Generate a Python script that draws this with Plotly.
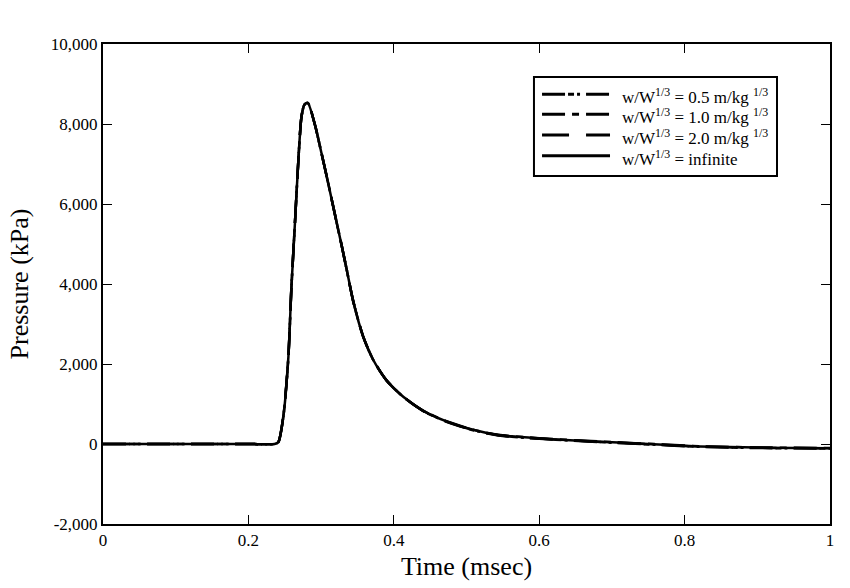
import plotly.graph_objects as go

time_ms = [0.0, 0.10, 0.20, 0.236, 0.241, 0.248, 0.255, 0.259, 0.264, 0.269, 0.273, 0.277,
           0.2816, 0.2916, 0.3008, 0.310, 0.3191, 0.3283, 0.3352, 0.3443, 0.358, 0.3718,
           0.390, 0.413, 0.440, 0.4725, 0.509, 0.5437, 0.600, 0.684, 0.750,
           0.821, 0.900, 1.000]
p_inf = [0, 0, 0, 0, 40, 680, 2180, 3850, 5520, 7180, 8180, 8480,
         8530, 7975, 7250, 6500, 5730, 4960, 4360, 3560, 2680, 2100,
         1590, 1180, 835, 565, 355, 225, 140, 58, 0,
         -60, -90, -105]
p_20 = [0, 0, 0, 0, 40, 680, 2180, 3850, 5520, 7180, 8180, 8480,
        8530, 7975, 7250, 6500, 5730, 4960, 4360, 3560, 2680, 2100,
        1590, 1180, 835, 560, 350, 220, 135, 53, -5,
        -65, -95, -108]
p_10 = [0, 0, 0, 0, 40, 680, 2180, 3850, 5520, 7180, 8180, 8480,
        8530, 7975, 7250, 6500, 5730, 4960, 4360, 3560, 2680, 2100,
        1590, 1180, 835, 570, 360, 230, 145, 62, 5,
        -55, -85, -100]
p_05 = [0, 0, 0, 0, 40, 680, 2180, 3850, 5520, 7180, 8180, 8480,
        8530, 7975, 7250, 6500, 5730, 4960, 4360, 3560, 2680, 2100,
        1590, 1180, 830, 555, 345, 215, 130, 48, -10,
        -70, -100, -112]

series_names = ["w/W<sup>1/3</sup> = 0.5 m/kg <sup>1/3</sup>",
                "w/W<sup>1/3</sup> = 1.0 m/kg <sup>1/3</sup>",
                "w/W<sup>1/3</sup> = 2.0 m/kg <sup>1/3</sup>",
                "w/W<sup>1/3</sup> = infinite"]
series_values = [p_05, p_10, p_20, p_inf]
dashes = ["23px,3px,6px,3px,3px,6px", "23px,7px,7px,7px", "27px,17px", "solid"]

x_ticks = [0, 0.2, 0.4, 0.6, 0.8, 1]
x_tick_text = ["0", "0.2", "0.4", "0.6", "0.8", "1"]
y_ticks = [-2000, 0, 2000, 4000, 6000, 8000, 10000]
y_tick_text = ["-2,000", "0", "2,000", "4,000", "6,000", "8,000", "10,000"]

font = "Times New Roman, Liberation Serif, serif"

fig = go.Figure()
for name, vals, dash in zip(series_names, series_values, dashes):
    fig.add_trace(go.Scatter(x=time_ms, y=vals, mode="lines", name=name, showlegend=False,
                             line=dict(color="black", width=2.5, dash=dash,
                                       shape="spline", smoothing=0.7)))

# Custom legend (box, line samples and labels), in paper coordinates
legend_box = dict(x0=0.5928, x1=0.9271, y0=0.725, y1=0.9313)
legend_rows_y = [0.8952, 0.8535, 0.8104, 0.7673]
sample_x0, sample_x1, text_x = 0.6039, 0.6974, 0.7110

fig.add_shape(type="rect", xref="paper", yref="paper", **legend_box,
              line=dict(color="black", width=2), fillcolor="white", layer="above")
for name, dash, ry in zip(series_names, dashes, legend_rows_y):
    fig.add_shape(type="line", xref="paper", yref="paper",
                  x0=sample_x0, x1=sample_x1, y0=ry, y1=ry,
                  line=dict(color="black", width=3, dash=dash), layer="above")
    fig.add_annotation(xref="paper", yref="paper", x=text_x, y=ry - 0.004,
                       xanchor="left", yanchor="middle", showarrow=False, text=name,
                       font=dict(family=font, size=17, color="black"))

axis_common = dict(showline=True, linecolor="black", linewidth=2, mirror="ticks",
                   ticks="inside", ticklen=9, tickwidth=1, tickcolor="black",
                   showgrid=False, zeroline=False,
                   tickfont=dict(family=font, size=17, color="black"))

fig.update_layout(
    width=850, height=588,
    margin=dict(l=103, r=20, t=44, b=64),
    plot_bgcolor="white", paper_bgcolor="white",
    font=dict(family=font, color="black"),
    xaxis=dict(range=[0, 1], tickvals=x_ticks, ticktext=x_tick_text,
               title=dict(text="Time (msec)", font=dict(family=font, size=26), standoff=7),
               **axis_common),
    yaxis=dict(range=[-2000, 10000], tickvals=y_ticks, ticktext=y_tick_text,
               title=dict(text="Pressure (kPa)", font=dict(family=font, size=26), standoff=15),
               **axis_common),
    showlegend=False,
)

fig.write_html("out.html")
